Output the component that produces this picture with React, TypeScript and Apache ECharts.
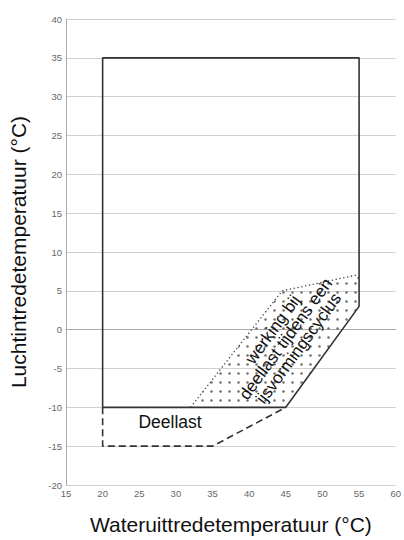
import React, { useEffect, useRef } from "react";
import * as echarts from "echarts";

const xTitle = "Wateruittredetemperatuur (°C)";
const yTitle = "Luchtintredetemperatuur (°C)";

// operating envelope (solid)
const envelope: number[][] = [
  [20, -10], [20, 35], [55, 35], [55, 3], [45, -10], [20, -10],
];
// part-load extension (dashed)
const partLoad: number[][] = [
  [20, -10], [20, -15], [35, -15], [45, -10],
];
// dotted boundary of the defrost region
const defrostEdge: number[][] = [
  [32, -10], [44.5, 5], [54.5, 7], [55, 6.5],
];
// dotted-fill region
const defrostArea: number[][] = [
  [32, -10], [44.5, 5], [54.5, 7], [55, 6.5], [55, 3], [45, -10],
];
const deellastLabel = { text: "Deellast", pos: [29.2, -11.9] };
const defrostLabel = {
  text: "werking bij\ndeellast tijdens een\nijsvormingscyclus",
  pos: [45.0, -1.2],
};

function makePattern() {
  const c = document.createElement("canvas");
  c.width = 9;
  c.height = 9;
  const ctx = c.getContext("2d")!;
  ctx.fillStyle = "#6e6e6e";
  ctx.beginPath();
  ctx.arc(4.5, 4.5, 1.25, 0, Math.PI * 2);
  ctx.fill();
  return c;
}

export default function App() {
  const ref = useRef<HTMLDivElement>(null);
  useEffect(() => {
    if (!ref.current) return;
    const chart = echarts.init(ref.current, undefined, { renderer: "svg" });
    const pattern = makePattern();
    const font = "'Liberation Sans', Arial, sans-serif";
    chart.setOption({
      animation: false,
      grid: { left: 65.5, right: 6, top: 19, bottom: 50 },
      xAxis: {
        type: "value",
        min: 15,
        max: 60,
        interval: 5,
        name: xTitle,
        nameLocation: "middle",
        nameGap: 29,
        nameTextStyle: { fontFamily: font, fontSize: 21, color: "#111" },
        axisLine: { show: true, lineStyle: { color: "#aaa" } },
        axisTick: { show: false },
        splitLine: { show: false },
        axisLabel: { fontFamily: font, fontSize: 9.5, color: "#666", margin: 3 },
      },
      yAxis: {
        type: "value",
        min: -20,
        max: 40,
        interval: 5,
        name: yTitle,
        nameLocation: "middle",
        nameGap: 37,
        nameTextStyle: { fontFamily: font, fontSize: 21, color: "#111" },
        axisLine: { show: true, lineStyle: { color: "#aaa" } },
        axisTick: { show: false },
        splitLine: { show: true, lineStyle: { color: "#d0d0d0", width: 1 } },
        axisLabel: { fontFamily: font, fontSize: 9.5, color: "#666", margin: 4 },
      },
      series: [
        {
          type: "custom",
          renderItem: (params: any, api: any) => {
            if (params.dataIndex !== 0) return null;
            const pts = defrostArea.map((p) => api.coord(p));
            return {
              type: "polygon",
              shape: { points: pts },
              style: {
                fill: { image: pattern, repeat: "repeat", imageWidth: 9, imageHeight: 9 },
                stroke: "none",
              },
              silent: true,
            };
          },
          data: [[0, 0]],
          z: 1,
        },
        {
          type: "line",
          data: defrostEdge,
          symbol: "none",
          lineStyle: { color: "#444", width: 1.3, type: [1.3, 2.6] },
          z: 2,
        },
        {
          type: "line",
          data: partLoad,
          symbol: "none",
          lineStyle: { color: "#333", width: 1.6, type: [7, 4] },
          z: 3,
        },
        {
          type: "line",
          data: envelope,
          symbol: "none",
          lineStyle: { color: "#333", width: 1.6 },
          z: 4,
        },
        {
          type: "custom",
          renderItem: (params: any, api: any) => {
            const p = api.coord(deellastLabel.pos);
            return {
              type: "text",
              x: p[0],
              y: p[1],
              style: {
                text: deellastLabel.text,
                fontFamily: font,
                fontSize: 17.5,
                fill: "#111",
                align: "center",
                verticalAlign: "middle",
              },
            };
          },
          data: [[0, 0]],
          z: 5,
        },
        {
          type: "custom",
          renderItem: (params: any, api: any) => {
            const p = api.coord(defrostLabel.pos);
            return {
              type: "text",
              x: p[0],
              y: p[1],
              rotation: (54 * Math.PI) / 180,
              style: {
                text: defrostLabel.text,
                fontFamily: font,
                fontSize: 17,
                lineHeight: 16,
                fill: "#111",
                align: "center",
                verticalAlign: "middle",
              },
            };
          },
          data: [[0, 0]],
          z: 5,
        },
      ],
    });
    return () => chart.dispose();
  }, []);
  return (
    <div
      ref={ref}
      style={{ position: "absolute", left: 0, top: 0, width: 404, height: 540 }}
    />
  );
}
